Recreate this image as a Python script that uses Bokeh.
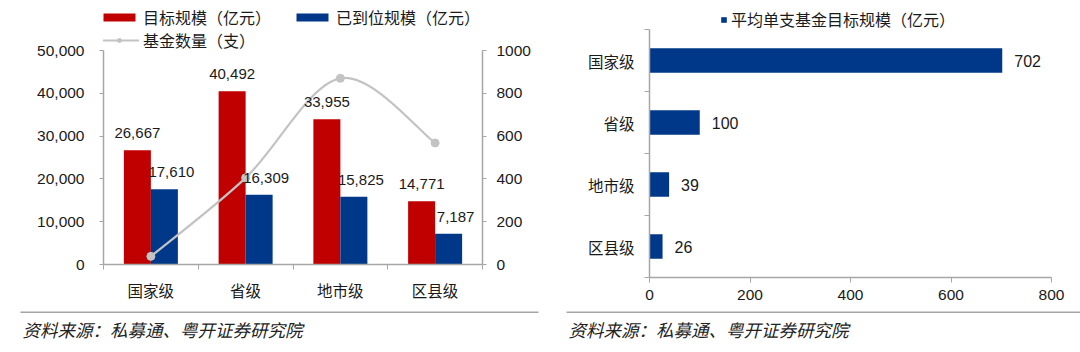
from bokeh.plotting import figure
from bokeh.models import (Range1d, LinearAxis, FixedTicker, Legend, LegendItem,
                          NumeralTickFormatter)
from bokeh.layouts import row, column
from bokeh.embed import file_html
from bokeh.resources import INLINE
from bokeh.core.properties import value

# ---------------- data ----------------
categories = ["国家级", "省级", "地市级", "区县级"]
target_scale = [26667, 40492, 33955, 14771]      # 目标规模（亿元）
paid_scale = [17610, 16309, 15825, 7187]         # 已到位规模（亿元）
fund_count = [38, 405, 870, 568]                 # 基金数量（支）
avg_scale = [702, 100, 39, 26]                   # 平均单支基金目标规模（亿元）
left_ticks = [0, 10000, 20000, 30000, 40000, 50000]
right_ticks = [0, 200, 400, 600, 800, 1000]
bar_ticks = [0, 200, 400, 600, 800]
source_text = "资料来源：私募通、粤开证券研究院"

# ---------------- style ----------------
RED = "#C00000"
BLUE = "#003889"
LINE_GRAY = "#C3C3C3"
AXIS_GRAY = "#A6A6A6"
TXT = "#1a1a1a"
CJK = "Noto Sans CJK SC"
LAT = "Liberation Sans"
FS = "15.5px"
LEG_FS = "16px"

n = len(categories)
centers = [i + 0.5 for i in range(n)]
bar_w = 0.285
x_red = [c - bar_w / 2 for c in centers]
x_blue = [c + bar_w / 2 for c in centers]

# ---------------- left chart ----------------
TOP_H = 305
L_top, L_bottom = 5, 41
frame_h = TOP_H - L_top - L_bottom
axis_h = 214
scale_ext = frame_h / axis_h

pL = figure(width=540, height=TOP_H, output_backend="svg", toolbar_location=None,
            x_range=Range1d(0, n), y_range=Range1d(0, left_ticks[-1] * scale_ext),
            min_border_left=103, min_border_right=58,
            min_border_top=L_top, min_border_bottom=L_bottom)
pL.outline_line_color = None
pL.xgrid.visible = False
pL.ygrid.visible = False
pL.background_fill_color = "white"
pL.border_fill_color = "white"

pL.extra_y_ranges = {"cnt": Range1d(0, right_ticks[-1] * scale_ext)}

red_r = pL.vbar(x=x_red, top=target_scale, width=bar_w, fill_color=RED, line_color=None)
blue_r = pL.vbar(x=x_blue, top=paid_scale, width=bar_w, fill_color=BLUE, line_color=None)

# smooth curve through the count points (Bezier segments)
bx0, by0, bx1, by1, cx0, cy0, cx1, cy1 = [], [], [], [], [], [], [], []
for i in range(n - 1):
    i0 = max(i - 1, 0)
    i3 = min(i + 2, n - 1)
    bx0.append(centers[i]); by0.append(fund_count[i])
    bx1.append(centers[i + 1]); by1.append(fund_count[i + 1])
    cx0.append(centers[i] + (centers[i + 1] - centers[i0]) / 6)
    cy0.append(fund_count[i] + (fund_count[i + 1] - fund_count[i0]) / 6)
    cx1.append(centers[i + 1] - (centers[i3] - centers[i]) / 6)
    cy1.append(fund_count[i + 1] - (fund_count[i3] - fund_count[i]) / 6)
pL.bezier(x0=bx0, y0=by0, x1=bx1, y1=by1, cx0=cx0, cy0=cy0, cx1=cx1, cy1=cy1,
          line_color=LINE_GRAY, line_width=2.2, y_range_name="cnt")
# hidden straight line: only used for the legend swatch
leg_line = pL.line(x=centers, y=fund_count, line_color=LINE_GRAY, line_width=2.2,
                   y_range_name="cnt", visible=False)
dots = pL.scatter(x=centers, y=fund_count, size=8, fill_color=LINE_GRAY,
                  line_color=LINE_GRAY, y_range_name="cnt")

pL.text(x=x_red, y=target_scale, text=[f"{v:,}" for v in target_scale],
        text_align="center", text_baseline="middle", y_offset=-17,
        text_font=value(LAT), text_font_size="15px", text_color=TXT)
pL.text(x=x_blue, y=paid_scale, text=[f"{v:,}" for v in paid_scale],
        text_align="center", text_baseline="middle", y_offset=-17, x_offset=7,
        text_font=value(LAT), text_font_size="15px", text_color=TXT)

# axes
xa = pL.xaxis[0]
xa.ticker = FixedTicker(ticks=centers, minor_ticks=list(range(n + 1)))
xa.major_label_overrides = {c: lab for c, lab in zip(centers, categories)}
xa.major_tick_out = 0
xa.major_tick_in = 0
xa.minor_tick_out = 5
xa.minor_tick_in = 0
xa.minor_tick_line_color = AXIS_GRAY
xa.axis_line_color = AXIS_GRAY
xa.axis_line_width = 1.5
xa.major_label_standoff = 9
xa.major_label_text_font = CJK
xa.major_label_text_font_size = FS
xa.major_label_text_color = TXT

ya = pL.yaxis[0]
ya.ticker = FixedTicker(ticks=left_ticks, minor_ticks=[])
ya.formatter = NumeralTickFormatter(format="0,0")
ya.bounds = (left_ticks[0], left_ticks[-1])
ya.major_tick_out = 4
ya.major_tick_in = 0
ya.major_tick_line_color = AXIS_GRAY
ya.axis_line_color = AXIS_GRAY
ya.axis_line_width = 1.5
ya.major_label_standoff = 15
ya.major_label_text_font = LAT
ya.major_label_text_font_size = FS
ya.major_label_text_color = TXT

ra = LinearAxis(y_range_name="cnt", ticker=FixedTicker(ticks=right_ticks, minor_ticks=[]),
                formatter=NumeralTickFormatter(format="0"),
                bounds=(right_ticks[0], right_ticks[-1]))
ra.major_tick_out = 4
ra.major_tick_in = 0
ra.major_tick_line_color = AXIS_GRAY
ra.axis_line_color = AXIS_GRAY
ra.axis_line_width = 1.5
ra.major_label_standoff = 10
ra.major_label_text_font = LAT
ra.major_label_text_font_size = FS
ra.major_label_text_color = TXT
pL.add_layout(ra, "right")

def style_legend(lg, gw, gh, spacing=0):
    lg.glyph_width = gw
    lg.glyph_height = gh
    lg.label_standoff = 4
    lg.spacing = spacing
    lg.padding = 0
    lg.margin = 0
    lg.border_line_alpha = 0
    lg.background_fill_alpha = 0
    lg.inactive_fill_alpha = 0
    lg.label_text_font = CJK
    lg.label_text_font_size = LEG_FS
    lg.label_text_color = TXT
    lg.label_height = 10

leg1 = Legend(items=[LegendItem(label="目标规模（亿元）", renderers=[red_r]),
                     LegendItem(label="已到位规模（亿元）", renderers=[blue_r])],
              orientation="horizontal", location=(-4, 235))
style_legend(leg1, 40, 10, spacing=21)
leg2 = Legend(items=[LegendItem(label="基金数量（支）", renderers=[leg_line, dots])],
              orientation="horizontal", location=(-4, 212))
style_legend(leg2, 40, 10)
pL.add_layout(leg1, "center")
pL.add_layout(leg2, "center")

# ---------------- right chart ----------------
R_top, R_bottom = 5, 28
r_frame_h = TOP_H - R_top - R_bottom
unit = 62
y_centers = [n - 1 - i + 0.5 for i in range(n)]

pR = figure(width=540, height=TOP_H, output_backend="svg", toolbar_location=None,
            x_range=Range1d(bar_ticks[0], bar_ticks[-1]),
            y_range=Range1d(0, r_frame_h / unit),
            min_border_left=109, min_border_right=29,
            min_border_top=R_top, min_border_bottom=R_bottom)
pR.outline_line_color = None
pR.xgrid.visible = False
pR.ygrid.visible = False

hb = pR.hbar(y=y_centers, right=avg_scale, left=0, height=0.395,
             fill_color=BLUE, line_color=None)
pR.text(x=avg_scale, y=y_centers, text=[str(v) for v in avg_scale],
        text_align="left", text_baseline="middle", x_offset=12,
        text_font=value(LAT), text_font_size="16px", text_color=TXT)

rx = pR.xaxis[0]
rx.ticker = FixedTicker(ticks=bar_ticks, minor_ticks=[])
rx.major_tick_out = 5
rx.major_tick_in = 0
rx.major_tick_line_color = AXIS_GRAY
rx.axis_line_color = AXIS_GRAY
rx.axis_line_width = 1.5
rx.major_label_standoff = 7
rx.major_label_text_font = LAT
rx.major_label_text_font_size = FS
rx.major_label_text_color = TXT

ry = pR.yaxis[0]
ry.ticker = FixedTicker(ticks=y_centers, minor_ticks=list(range(n + 1)))
ry.major_label_overrides = {c: lab for c, lab in zip(y_centers, categories)}
ry.bounds = (0, n)
ry.major_tick_out = 0
ry.major_tick_in = 0
ry.minor_tick_out = 5
ry.minor_tick_in = 0
ry.minor_tick_line_color = AXIS_GRAY
ry.axis_line_color = AXIS_GRAY
ry.axis_line_width = 1.5
ry.major_label_standoff = 10
ry.major_label_text_font = CJK
ry.major_label_text_font_size = FS
ry.major_label_text_color = TXT

leg3 = Legend(items=[LegendItem(label="平均单支基金目标规模（亿元）", renderers=[hb])],
              orientation="horizontal", location=(71, 246))
style_legend(leg3, 7, 7)
pR.add_layout(leg3, "center")

# ---------------- footers ----------------
FOOT_H = 352 - TOP_H

def footer(line_x0, line_x1, text_x):
    f = figure(width=540, height=FOOT_H, output_backend="svg", toolbar_location=None,
               x_range=Range1d(0, 540), y_range=Range1d(FOOT_H, 0),
               x_axis_type=None, y_axis_type=None, min_border=0)
    f.outline_line_color = None
    f.segment(x0=[line_x0], y0=[6.7], x1=[line_x1], y1=[6.7],
              line_color=AXIS_GRAY, line_width=1.5)
    f.text(x=[text_x], y=[24.0], text=[source_text], text_font=value(CJK),
           text_font_size="17.5px", text_font_style="italic", text_baseline="middle",
           text_color="#222222")
    return f

fL = footer(20, 538, 22)
fR = footer(26, 540, 28)

layout = column(row(column(pL), column(pR), spacing=0), row(fL, fR, spacing=0), spacing=0)
open("out.html", "w").write(file_html(layout, INLINE))
